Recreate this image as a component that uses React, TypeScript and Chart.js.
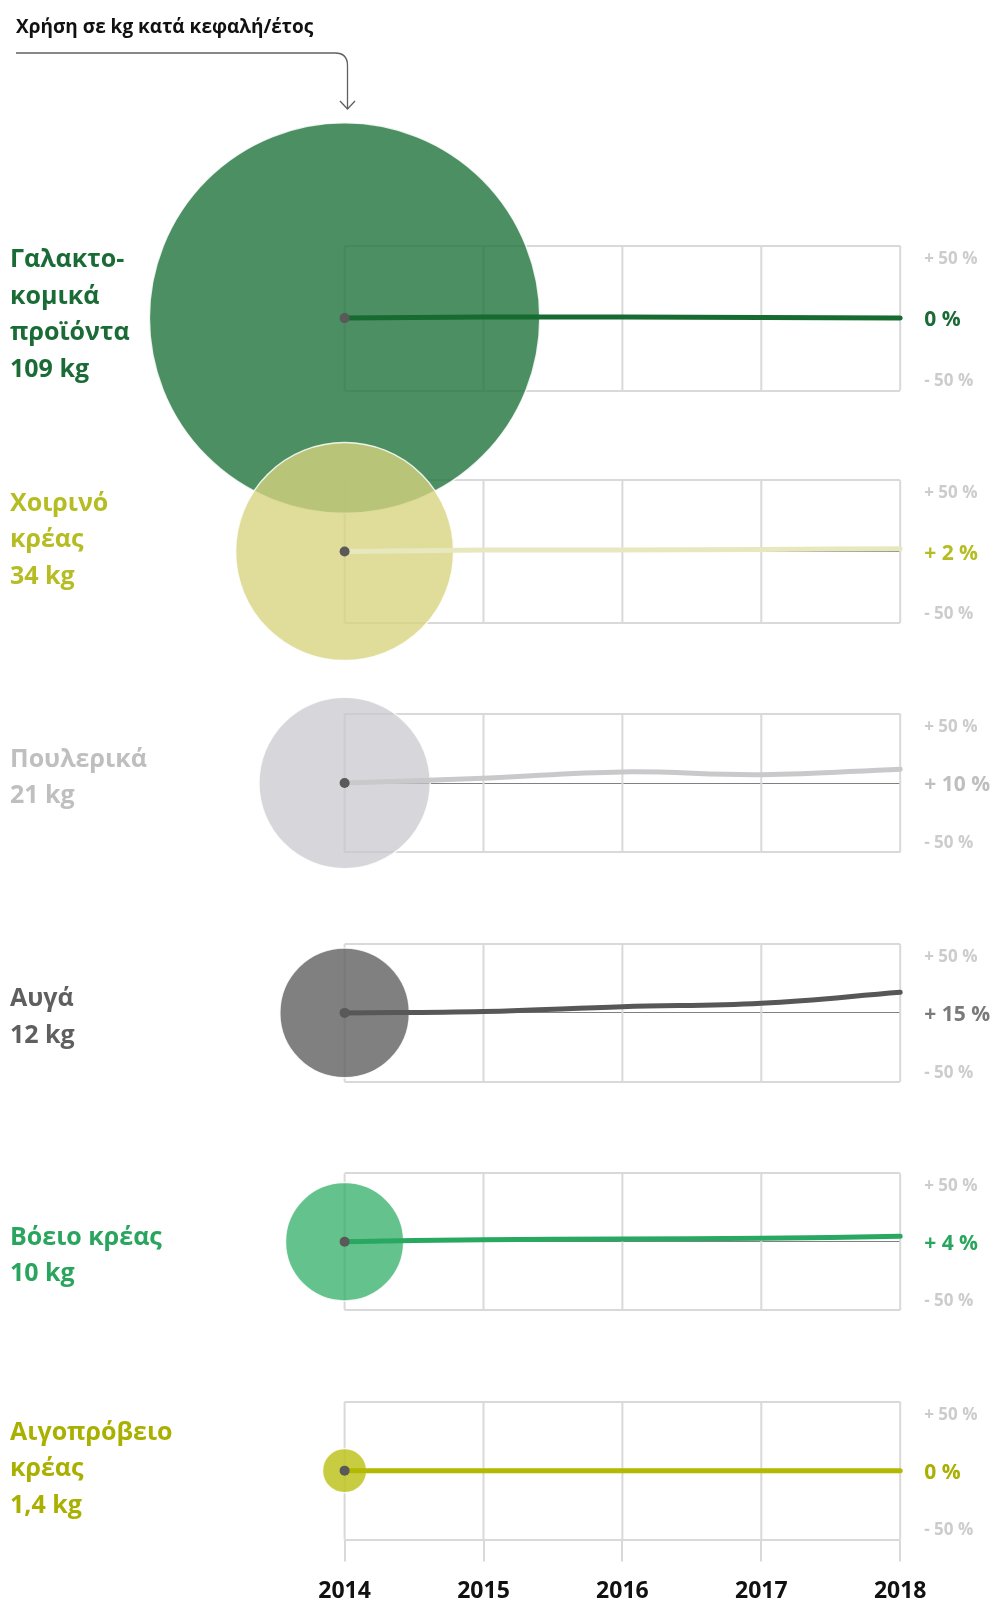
import React, { useEffect, useRef } from 'react';
import { Chart, registerables } from 'chart.js';

Chart.register(...registerables);

// ---------- data ----------
const years = [2014, 2015, 2016, 2017, 2018];
const categoryNames = [
  ['Γαλακτο-', 'κομικά', 'προϊόντα'],
  ['Χοιρινό', 'κρέας'],
  ['Πουλερικά'],
  ['Αυγά'],
  ['Βόειο κρέας'],
  ['Αιγοπρόβειο', 'κρέας'],
];
const kgPerCapita = [109, 34, 21, 12, 10, 1.4];
const dairyChange = [0, 0.7, 0.7, 0.5, 0];
const porkChange = [0, 1, 1, 1.5, 2];
const poultryChange = [0, 3.5, 8, 6, 10];
const eggChange = [0, 1, 4.5, 7, 15];
const beefChange = [0, 1.5, 2, 2.5, 4];
const goatChange = [0, 0, 0, 0, 0];
const yTickValues = [-50, 0, 50];
const titleText = 'Χρήση σε kg κατά κεφαλή/έτος';

const seriesChanges = [dairyChange, porkChange, poultryChange, eggChange, beefChange, goatChange];

// ---------- styles / layout ----------
const FONT = '"Open Sans", "Noto Sans", sans-serif';
const GRID = '#d9d9d9';
const labelColors = ['#1b6b37', '#b5bd22', '#bfbfbf', '#5f5f5f', '#2aa55e', '#aab000'];
const valueColors = ['#1b6b37', '#b5bd22', '#bfbfbf', '#7a7a7a', '#2aa55e', '#aab000'];
const lineColors = ['#176b31', '#e8e8bf', '#c9c9cc', '#575757', '#29a862', '#b3b800'];
const bubbleColors = [
  'rgba(30,115,60,0.8)',
  'rgba(215,212,125,0.78)',
  'rgba(200,199,205,0.72)',
  'rgba(96,96,96,0.8)',
  'rgba(40,170,95,0.72)',
  'rgba(190,195,30,0.85)',
];
const labelTops = [239.4, 482.7, 738.6, 978.1, 1216.7, 1411.5];
const LABEL_LH = 36.5;
const CHART_TOP = 200;
const CANVAS_W = 994;
const CANVAS_H = 1599;
const PLOT_LEFT = 344.6;
const PLOT_RIGHT = 900.2;
// pixel position of the +50 % and -50 % lines of each panel
const panelTopPx = [245.7, 480.2, 713.7, 944.1, 1173.4, 1401.8];
const panelBottomPx = [390.5, 622.9, 852.3, 1081.7, 1310.1, 1539.5];
const RADIUS_PER_SQRT_KG = 18.7;

const changeLabel = (vals: number[]) => {
  const v = vals[vals.length - 1];
  return v === 0 ? '0 %' : (v > 0 ? '+ ' : '- ') + Math.abs(v) + ' %';
};
const kgLabel = (kg: number) => String(kg).replace('.', ',') + ' kg';

// slot (stack section) of each panel axis
const slotTop = panelTopPx.map((t, i) => (i === 0 ? CHART_TOP : (panelBottomPx[i - 1] + t) / 2));
const slotBottom = panelBottomPx.map((b, i) =>
  i === panelBottomPx.length - 1 ? b : (b + panelTopPx[i + 1]) / 2
);

const panelFrame = {
  id: 'panelFrame',
  beforeDatasetsDraw(chart: any) {
    const ctx = chart.ctx;
    const xs = chart.scales.x;
    ctx.save();
    ctx.strokeStyle = GRID;
    ctx.lineWidth = 2;
    seriesChanges.forEach((_, i) => {
      const ys = chart.scales['y' + i];
      const top = ys.getPixelForValue(yTickValues[2]);
      const bot = ys.getPixelForValue(yTickValues[0]);
      years.forEach((yr) => {
        const px = xs.getPixelForValue(yr);
        ctx.beginPath();
        ctx.moveTo(px, top);
        ctx.lineTo(px, bot);
        ctx.stroke();
      });
    });
    ctx.restore();
  },
};

export default function App() {
  const ref = useRef<HTMLCanvasElement>(null);

  useEffect(() => {
    const canvas = ref.current;
    if (!canvas) return;
    const xAxisHeight = CANVAS_H - panelBottomPx[panelBottomPx.length - 1];
    const scales: any = {
      x: {
        type: 'linear',
        min: years[0],
        max: years[years.length - 1],
        afterBuildTicks: (s: any) => {
          s.ticks = years.map((v) => ({ value: v }));
        },
        afterFit: (s: any) => {
          s.height = xAxisHeight;
        },
        border: { display: false },
        grid: { drawOnChartArea: false, drawTicks: true, tickLength: 22, color: GRID, lineWidth: 2 },
        ticks: {
          padding: 16,
          autoSkip: false,
          maxRotation: 0,
          color: '#111111',
          font: { family: FONT, size: 23, weight: 'bold' },
          callback: (v: any) => String(v),
        },
      },
    };
    seriesChanges.forEach((vals, i) => {
      const pxPerUnit = (panelBottomPx[i] - panelTopPx[i]) / 100;
      const above = (panelTopPx[i] - slotTop[i]) / pxPerUnit;
      const below = (slotBottom[i] - panelBottomPx[i]) / pxPerUnit;
      scales['y' + i] = {
        type: 'linear',
        position: 'right',
        stack: 'panels',
        stackWeight: slotBottom[i] - slotTop[i],
        min: -50 - below,
        max: 50 + above,
        afterBuildTicks: (s: any) => {
          s.ticks = yTickValues.map((v) => ({ value: v }));
        },
        afterFit: (s: any) => {
          s.width = CANVAS_W - PLOT_RIGHT;
        },
        border: { display: false },
        grid: {
          drawTicks: false,
          color: (c: any) => (c.tick && c.tick.value === 0 ? '#808080' : GRID),
          lineWidth: (c: any) => (c.tick && c.tick.value === 0 ? 1 : 2),
        },
        ticks: {
          padding: 24,
          labelOffset: 2,
          autoSkip: false,
          callback: (v: any) =>
            v === 50 ? ['', '+ 50 %'] : v === -50 ? ['- 50 %', ''] : changeLabel(vals),
          color: (c: any) => (c.tick && c.tick.value === 0 ? valueColors[i] : '#cccccc'),
          font: (c: any) =>
            c.tick && c.tick.value === 0
              ? { family: FONT, size: 21, weight: 'bold', lineHeight: 1.2 }
              : { family: FONT, size: 17, weight: 'bold', lineHeight: 22 / 17 },
        },
      };
    });

    const datasets: any[] = [];
    seriesChanges.forEach((vals, i) => {
      datasets.push({
        type: 'bubble',
        yAxisID: 'y' + i,
        xAxisID: 'x',
        data: [{ x: years[0], y: vals[0], r: RADIUS_PER_SQRT_KG * Math.sqrt(kgPerCapita[i]) }],
        backgroundColor: bubbleColors[i],
        borderColor: 'rgba(255,255,255,0.85)',
        borderWidth: 1.5,
        order: 100 - i * 3,
        clip: false,
      });
      datasets.push({
        type: 'line',
        yAxisID: 'y' + i,
        xAxisID: 'x',
        data: years.map((yr, j) => ({ x: yr, y: vals[j] })),
        borderColor: lineColors[i],
        borderWidth: 5,
        borderCapStyle: 'round',
        borderJoinStyle: 'round',
        tension: 0.4,
        fill: false,
        pointRadius: (c: any) => (c.dataIndex === 0 ? 5 : 0),
        pointBackgroundColor: '#595959',
        pointBorderWidth: 0,
        order: 99 - i * 3,
        clip: false,
      });
    });

    const chart = new Chart(canvas, {
      type: 'line',
      data: { datasets },
      options: {
        animation: false,
        responsive: false,
        devicePixelRatio: 1,
        events: [],
        layout: { autoPadding: false, padding: { top: CHART_TOP, left: PLOT_LEFT, right: 0, bottom: 0 } },
        plugins: { legend: { display: false }, tooltip: { enabled: false } },
        scales,
      } as any,
      plugins: [panelFrame],
    } as any);
    return () => chart.destroy();
  }, []);

  return (
    <div style={{ position: 'absolute', left: 0, top: 0, width: CANVAS_W, height: CANVAS_H, fontFamily: FONT, background: '#fff', overflow: 'hidden' }}>
      <canvas ref={ref} width={CANVAS_W} height={CANVAS_H} style={{ position: 'absolute', left: 0, top: 0, width: CANVAS_W, height: CANVAS_H }} />
      <div style={{ position: 'absolute', left: 16, top: 14, fontSize: 19, lineHeight: '24px', fontWeight: 700, color: '#111', whiteSpace: 'nowrap' }}>
        {titleText}
      </div>
      <svg width={CANVAS_W} height={130} style={{ position: 'absolute', left: 0, top: 0 }}>
        <path d="M16 53 H335 Q347.5 53 347.5 65.5 V109" stroke="#606060" strokeWidth={1.3} fill="none" />
        <path d="M340 101 L347.5 109 L355 101" stroke="#606060" strokeWidth={1.3} fill="none" />
      </svg>
      {categoryNames.map((lines, i) => (
        <div
          key={i}
          style={{
            position: 'absolute',
            left: 10,
            top: labelTops[i],
            fontSize: 25,
            lineHeight: LABEL_LH + 'px',
            fontWeight: 700,
            color: labelColors[i],
            whiteSpace: 'nowrap',
          }}
        >
          {lines.map((t, j) => (
            <div key={j}>{t}</div>
          ))}
          <div>{kgLabel(kgPerCapita[i])}</div>
        </div>
      ))}
    </div>
  );
}
